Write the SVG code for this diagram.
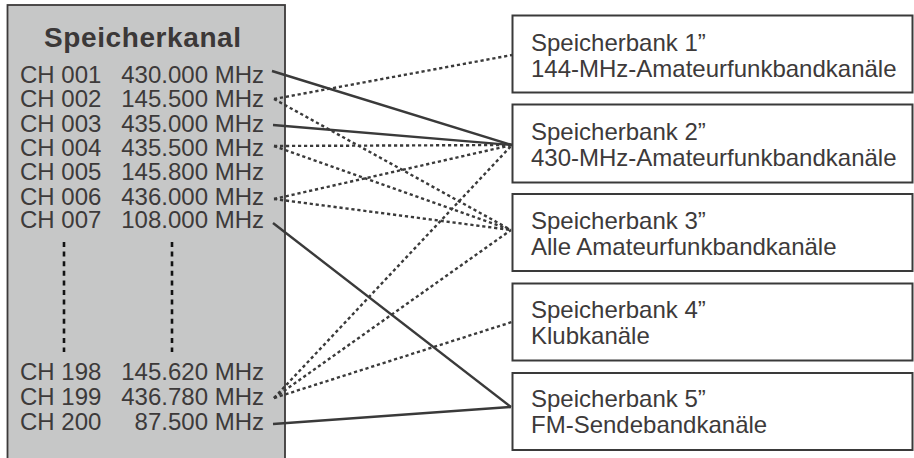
<svg xmlns="http://www.w3.org/2000/svg" width="914" height="458" viewBox="0 0 914 458">
<style>
  .txt { font-family: "Liberation Sans", Arial, sans-serif; font-size: 24px; fill: #3d3a3a; }
  .title { font-family: "Liberation Sans", Arial, sans-serif; font-size: 28px; font-weight: bold; fill: #3b3838; letter-spacing: 0.6px; }
  .box { fill: #ffffff; stroke: #3a3a3a; stroke-width: 2; }
  .solid { fill: none; stroke: #3a3a3a; stroke-width: 2.4; }
  .dot { fill: none; stroke: #3a3a3a; stroke-width: 2.4; stroke-dasharray: 3.2 2.8; }
  .vdash { fill: none; stroke: #111111; stroke-width: 2.6; stroke-dasharray: 5 4.6; }
</style>
<rect width="914" height="458" fill="#ffffff"/>
<g id="speicherkanal">
  <rect x="7.5" y="5" width="277.5" height="470" fill="#c6c7c7" stroke="#3c3a3a" stroke-width="1.8"/>
  <text class="title" x="44" y="46.5">Speicherkanal</text>
  <g class="txt">
    <text x="20" y="83">CH 001</text><text x="264" y="83" text-anchor="end">430.000 MHz</text>
    <text x="20" y="107">CH 002</text><text x="264" y="107" text-anchor="end">145.500 MHz</text>
    <text x="20" y="131.5">CH 003</text><text x="264" y="131.5" text-anchor="end">435.000 MHz</text>
    <text x="20" y="155.5">CH 004</text><text x="264" y="155.5" text-anchor="end">435.500 MHz</text>
    <text x="20" y="180">CH 005</text><text x="264" y="180" text-anchor="end">145.800 MHz</text>
    <text x="20" y="204.5">CH 006</text><text x="264" y="204.5" text-anchor="end">436.000 MHz</text>
    <text x="20" y="228">CH 007</text><text x="264" y="228" text-anchor="end">108.000 MHz</text>
    <text x="20" y="380">CH 198</text><text x="264" y="380" text-anchor="end">145.620 MHz</text>
    <text x="20" y="405">CH 199</text><text x="264" y="405" text-anchor="end">436.780 MHz</text>
    <text x="20" y="430">CH 200</text><text x="264" y="430" text-anchor="end">87.500 MHz</text>
  </g>
  <line class="vdash" x1="64" y1="242" x2="64" y2="352"/>
  <line class="vdash" x1="172" y1="242" x2="172" y2="352"/>
</g>
<g id="bank1">
  <rect class="box" x="512.5" y="15.5" width="400" height="77"/>
  <text class="txt" x="531" y="50.5">Speicherbank 1”</text>
  <text class="txt" x="531" y="76.5">144-MHz-Amateurfunkbandkanäle</text>
</g>
<g id="bank2">
  <rect class="box" x="512.5" y="104.5" width="400" height="78"/>
  <text class="txt" x="531" y="140">Speicherbank 2”</text>
  <text class="txt" x="531" y="166">430-MHz-Amateurfunkbandkanäle</text>
</g>
<g id="bank3">
  <rect class="box" x="512.5" y="194" width="400" height="77"/>
  <text class="txt" x="531" y="229">Speicherbank 3”</text>
  <text class="txt" x="531" y="255">Alle Amateurfunkbandkanäle</text>
</g>
<g id="bank4">
  <rect class="box" x="512.5" y="283.5" width="400" height="77"/>
  <text class="txt" x="531" y="318">Speicherbank 4”</text>
  <text class="txt" x="531" y="344">Klubkanäle</text>
</g>
<g id="bank5">
  <rect class="box" x="512.5" y="373" width="400" height="77"/>
  <text class="txt" x="531" y="407">Speicherbank 5”</text>
  <text class="txt" x="531" y="433">FM-Sendebandkanäle</text>
</g>
<g id="connectors">
  <line class="solid" x1="272" y1="71" x2="512" y2="145"/>
  <line class="solid" x1="273" y1="125" x2="512" y2="145"/>
  <line class="solid" x1="273" y1="223" x2="511" y2="407"/>
  <line class="solid" x1="273" y1="424" x2="511" y2="407"/>
  <line class="dot" x1="274" y1="99" x2="512" y2="55"/>
  <line class="dot" x1="274" y1="99" x2="511" y2="230"/>
  <line class="dot" x1="274" y1="146" x2="512" y2="145"/>
  <line class="dot" x1="274" y1="146" x2="511" y2="230"/>
  <line class="dot" x1="274" y1="199" x2="512" y2="145"/>
  <line class="dot" x1="274" y1="199" x2="511" y2="230"/>
  <line class="dot" x1="274" y1="398" x2="512" y2="145"/>
  <line class="dot" x1="274" y1="398" x2="511" y2="230"/>
  <line class="dot" x1="274" y1="398" x2="512" y2="322"/>
</g>
</svg>
